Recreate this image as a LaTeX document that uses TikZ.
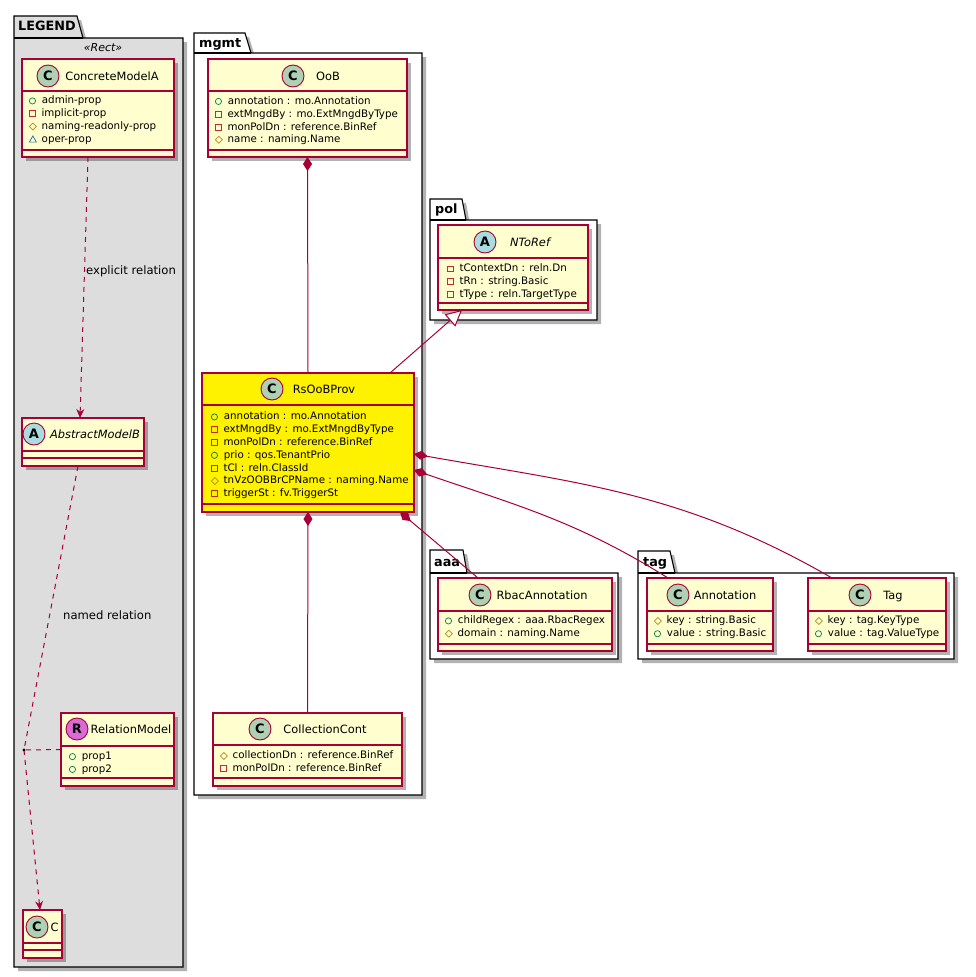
\documentclass[tikz,border=0pt]{standalone}
\usepackage{fontspec}
\setmainfont{DejaVu Sans}
\usetikzlibrary{arrows.meta,shadows}
\definecolor{umlred}{HTML}{A80036}
\definecolor{umlfill}{HTML}{FEFECE}
\definecolor{spotgreen}{HTML}{ADD1B2}
\definecolor{spotblue}{HTML}{A9DCDF}
\definecolor{spotpink}{HTML}{DA6BD6}
\definecolor{legendgray}{HTML}{DDDDDD}
\definecolor{pubgreen}{HTML}{038048}
\definecolor{privred}{HTML}{C82930}
\definecolor{protgold}{HTML}{B38D22}
\definecolor{pkgblue}{HTML}{1963A0}
% visibility marks in front of the members
\newcommand{\vpub}{\tikz[baseline={(0pt,-3pt)}]\draw[pubgreen,line width=.7pt] (0pt,0pt) circle (3.1pt);\hspace{6pt}}
\newcommand{\vpriv}{\tikz[baseline={(0pt,-3pt)}]\draw[privred,line width=.7pt] (-2.9pt,-2.9pt) rectangle (2.9pt,2.9pt);\hspace{6pt}}
\newcommand{\vprot}{\tikz[baseline={(0pt,-3pt)}]\draw[protgold,line width=.7pt] (-3.5pt,0pt) -- (0pt,3.5pt) -- (3.5pt,0pt) -- (0pt,-3.5pt) -- cycle;\hspace{5pt}}
\newcommand{\vpkg}{\tikz[baseline={(0pt,-3pt)}]\draw[pkgblue,line width=.7pt] (-3.5pt,-2.8pt) -- (3.5pt,-2.8pt) -- (0pt,3.4pt) -- cycle;\hspace{5pt}}
\begin{document}
\begin{tikzpicture}[x=1pt,y=-1pt]
	\tikzstyle{cls}=[draw=umlred, fill=umlfill, line width=1.1pt, anchor=north west, inner sep=0pt, outer sep=0pt, drop shadow={shadow xshift=4pt, shadow yshift=-4pt, opacity=.3, fill=black}]
	\tikzstyle{spot}=[circle, draw=umlred, line width=.9pt, minimum size=22pt, inner sep=0pt, font=\bfseries\fontsize{13}{13}\selectfont]
	\tikzstyle{cname}=[inner sep=0pt, text height=8.3pt, text depth=0pt, font=\fontsize{11.4}{13}\selectfont]
	\tikzstyle{mem}=[anchor=north west, align=left, inner sep=0pt, font=\fontsize{10.3}{12.8}\selectfont]
	\tikzstyle{pkg}=[draw=black, line width=1.1pt, fill=white, drop shadow={shadow xshift=4pt, shadow yshift=-4pt, opacity=.3, fill=black}]
	\tikzstyle{pname}=[anchor=west, inner sep=0pt, text height=9.2pt, text depth=0pt, font=\bfseries\fontsize{12.8}{14}\selectfont]
	\tikzstyle{umlline}=[draw=umlred, line width=1.1pt]
	\tikzstyle{link}=[draw=umlred, line width=1pt]
	\tikzstyle{comp}=[link, {Diamond[length=14pt,width=9pt,fill=umlred]}-]
	\tikzstyle{rel}=[link, dash pattern=on 5pt off 5pt, -{Stealth[length=9pt,width=8pt,inset=3pt]}]
	\tikzstyle{inherit}=[link, -{Triangle[open,length=16pt,width=16pt,fill=white]}]
	\tikzstyle{label}=[anchor=west, inner sep=0pt, font=\fontsize{11.6}{13}\selectfont]
	\useasboundingbox (0,0) rectangle (975,977);
	% packages
	\draw[pkg, fill=legendgray] (14,16) -- (77,16) -- (83,38) -- (183,38) -- (183,967) -- (14,967) -- cycle;
	\draw[pkg] (194,33) -- (245,33) -- (251,53) -- (422,53) -- (422,795) -- (194,795) -- cycle;
	\draw[pkg] (430,199) -- (462,199) -- (466,220) -- (597,220) -- (597,320) -- (430,320) -- cycle;
	\draw[pkg] (430,550) -- (463,550) -- (467,573) -- (618,573) -- (618,659) -- (430,659) -- cycle;
	\draw[pkg] (638,551) -- (670,551) -- (675,573) -- (954,573) -- (954,659) -- (638,659) -- cycle;
	\foreach \l/\r/\y in {14/83/38, 194/251/53, 430/466/220, 430/467/573, 638/675/573}
		\draw[line width=1.1pt] (\l,\y) -- (\r,\y);
	\node[pname] (legendp) at (18,26) {LEGEND};
	\node[pname] (mgmtp) at (199,43) {mgmt};
	\node[pname] (polp) at (435,209) {pol};
	\node[pname] (aaap) at (434,562) {aaa};
	\node[pname] (tagp) at (643,562) {tag};
	\node[font=\itshape\fontsize{11}{13}\selectfont, inner sep=0pt] (rect) at (103,48) {«Rect»};
	% classes
	\node[cls, minimum width=152pt, minimum height=98pt] (concA) at (22,59) {};
	\node[cls, minimum width=122pt, minimum height=48pt] (absB) at (22,418) {};
	\node[cls, minimum width=113pt, minimum height=73pt] (relM) at (61,713) {};
	\node[cls, minimum width=39pt, minimum height=48pt] (cC) at (23,910) {};
	\node[cls, minimum width=199pt, minimum height=98pt] (oob) at (208,59) {};
	\node[cls, minimum width=212pt, minimum height=139pt, fill=yellow] (rsoob) at (202,373) {};
	\node[cls, minimum width=189pt, minimum height=73pt] (coll) at (213,713) {};
	\node[cls, minimum width=150pt, minimum height=85pt] (ntoref) at (438,225) {};
	\node[cls, minimum width=174pt, minimum height=73pt] (rbac) at (438,578) {};
	\node[cls, minimum width=126pt, minimum height=73pt] (annot) at (647,578) {};
	\node[cls, minimum width=138pt, minimum height=73pt] (tagc) at (808,578) {};
	\foreach \n/\a/\b in {concA/32/91, absB/33/40, relM/33/65, cC/33/40, oob/32/91, rsoob/32/131, coll/32/65, ntoref/33/78, rbac/33/66, annot/33/66, tagc/33/66}
	{
		\draw[umlline] ([yshift=-\a pt]\n.north west) -- ([yshift=-\a pt]\n.north east);
		\draw[umlline] ([yshift=-\b pt]\n.north west) -- ([yshift=-\b pt]\n.north east);
	}
	% headers
	\node[spot, fill=spotgreen] (concAs) at (48,76) {C};
	\node[cname] (concAn) at (112,76) {ConcreteModelA};
	\node[spot, fill=spotblue] (absBs) at (34,434) {A};
	\node[cname, font=\itshape\fontsize{11.4}{13}\selectfont] (absBn) at (95,434) {AbstractModelB};
	\node[spot, fill=spotpink] (relMs) at (77,729) {R};
	\node[cname] (relMn) at (131,729) {RelationModel};
	\node[spot, fill=spotgreen] (cCs) at (37,927) {C};
	\node[cname] (cCn) at (54.5,927) {C};
	\node[spot, fill=spotgreen] (oobs) at (293,76) {C};
	\node[cname] (oobn) at (328,76) {OoB};
	\node[spot, fill=spotgreen] (rsoobs) at (272,389) {C};
	\node[cname] (rsoobn) at (324,389) {RsOoBProv};
	\node[spot, fill=spotgreen] (colls) at (260,729) {C};
	\node[cname] (colln) at (325,729) {CollectionCont};
	\node[spot, fill=spotblue] (ntorefs) at (485,242) {A};
	\node[cname, font=\itshape\fontsize{11.4}{13}\selectfont] (ntorefn) at (530,242) {NToRef};
	\node[spot, fill=spotgreen] (rbacs) at (480,595) {C};
	\node[cname] (rbacn) at (542,595) {RbacAnnotation};
	\node[spot, fill=spotgreen] (annots) at (678,595) {C};
	\node[cname] (annotn) at (725,595) {Annotation};
	\node[spot, fill=spotgreen] (tagcs) at (860,595) {C};
	\node[cname] (tagcn) at (893,595) {Tag};
	% members
	\node[mem] (concAm) at (28.8,95.9) {\vpub admin-prop\\ \vpriv implicit-prop\\ \vprot naming-readonly-prop\\ \vpkg oper-prop};
	\node[mem] (relMm) at (68.8,751.9) {\vpub prop1\\ \vpub prop2};
	\node[mem] (oobm) at (214.8,96.4) {\vpub annotation : mo.Annotation\\ \vpriv extMngdBy : mo.ExtMngdByType\\ \vpriv monPolDn : reference.BinRef\\ \vprot name : naming.Name};
	\node[mem] (rsoobm) at (210.8,411.9) {\vpub annotation : mo.Annotation\\ \vpriv extMngdBy : mo.ExtMngdByType\\ \vpriv monPolDn : reference.BinRef\\ \vpub prio : qos.TenantPrio\\ \vpriv tCl : reln.ClassId\\ \vprot tnVzOOBBrCPName : naming.Name\\ \vpriv triggerSt : fv.TriggerSt};
	\node[mem] (collm) at (219.8,750.9) {\vprot collectionDn : reference.BinRef\\ \vpriv monPolDn : reference.BinRef};
	\node[mem] (ntorefm) at (446.8,263.9) {\vpriv tContextDn : reln.Dn\\ \vpriv tRn : string.Basic\\ \vpriv tType : reln.TargetType};
	\node[mem] (rbacm) at (444.8,615.9) {\vpub childRegex : aaa.RbacRegex\\ \vprot domain : naming.Name};
	\node[mem] (annotm) at (653.8,615.9) {\vprot key : string.Basic\\ \vpub value : string.Basic};
	\node[mem] (tagcm) at (814.8,615.9) {\vprot key : tag.KeyType\\ \vpub value : tag.ValueType};
	% legend relations
	\coordinate (reldot) at (24,750);
	\draw[rel] ([xshift=-10pt]concA.south) -- ([xshift=-3pt]absB.north);
	\node[label] (explicit) at (86,271) {explicit relation};
	\draw[link, dash pattern=on 5pt off 5pt] ([xshift=-5pt]absB.south) -- (reldot);
	\draw[link, dash pattern=on 5pt off 5pt] (relM.west) -- (reldot);
	\draw[rel] (reldot) -- ([xshift=-2.5pt]cC.north);
	\fill (reldot) circle (1.6pt);
	\node[label] (named) at (63,615) {named relation};
	% mgmt relations
	\draw[comp] (oob.south) -- (rsoob.north);
	\draw[comp] (rsoob.south) -- (coll.north);
	\draw[inherit] ([xshift=82pt]rsoob.north) -- ([xshift=-51pt]ntoref.south);
	\draw[comp] ([xshift=-14pt]rsoob.south east) -- ([xshift=-47pt]rbac.north);
	\draw[comp] ([yshift=-81pt]rsoob.north east) to[out=-10,in=150] ([xshift=-45pt]tagc.north);
	\draw[comp] ([yshift=-97pt]rsoob.north east) to[out=-19,in=148] ([xshift=-42pt]annot.north);
\end{tikzpicture}
\end{document}
